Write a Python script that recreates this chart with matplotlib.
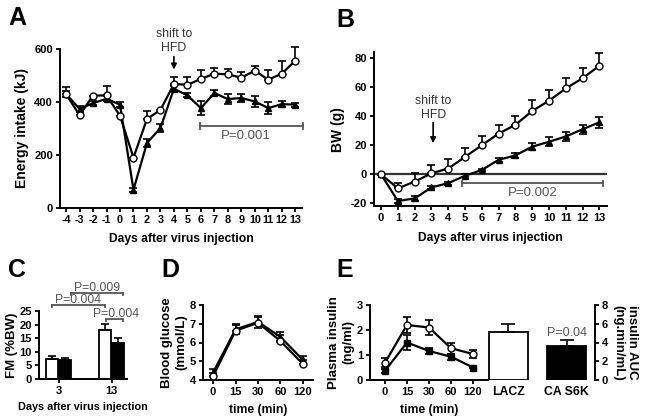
import numpy as np
import matplotlib
matplotlib.use('Agg')
import matplotlib.pyplot as plt

plt.rcParams['font.family'] = ['Liberation Sans', 'DejaVu Sans']
plt.rcParams['font.weight'] = 'bold'
plt.rcParams['axes.labelweight'] = 'bold'
plt.rcParams['axes.unicode_minus'] = False

# ---- data ----
# A: energy intake (kJ)
a_days = list(range(-4, 14))
a_lacz = [430, 350, 424, 425, 348, 190, 336, 370, 468, 465, 487, 507, 504, 492, 518, 484, 507, 556]
a_lacz_err = [27, 0, 0, 35, 0, 0, 30, 0, 28, 29, 32, 21, 22, 23, 17, 35, 46, 50]
a_s6k = [430, 374, 396, 412, 390, 69, 245, 302, 450, 425, 377, 434, 411, 415, 402, 377, 392, 390]
a_s6k_err = [10, 10, 8, 10, 10, 8, 16, 16, 10, 8, 25, 12, 20, 16, 20, 22, 12, 8]

# B: body weight change (g)
b_days = list(range(0, 14))
b_lacz = [0, -9.6, -5, 0.7, 4, 12, 20, 28, 34, 43.5, 50.6, 59, 66, 74.6]
b_lacz_err = [0, 4, 6, 6, 6.5, 6, 6, 6, 6, 7.5, 7.5, 7, 7, 9]
b_s6k = [0, -18.3, -16.5, -9, -6, -1, 3, 10, 13, 19, 22.4, 26, 31, 35.7]
b_s6k_err = [0.5, 1.5, 1.5, 1, 1, 1, 1, 1.5, 2, 2.5, 3, 3, 3, 4]

# C: fat mass (%BW)
c_days = ['3', '13']
c_lacz = [7.4, 18.0]
c_lacz_err = [1.1, 2.2]
c_s6k = [7.1, 13.4]
c_s6k_err = [0.7, 1.6]

# D: blood glucose
times = ['0', '15', '30', '60', '120']
d_lacz = [4.2, 6.63, 7.05, 6.08, 4.85]
d_lacz_err = [0.2, 0.3, 0.33, 0.3, 0.2]
d_s6k = [4.4, 6.7, 7.1, 6.3, 5.07]
d_s6k_err = [0.17, 0.27, 0.33, 0.28, 0.2]

# E: plasma insulin and AUC
e_lacz = [0.69, 2.2, 2.1, 1.27, 1.04]
e_lacz_err = [0.18, 0.33, 0.3, 0.23, 0.16]
e_s6k = [0.37, 1.5, 1.16, 0.93, 0.5]
e_s6k_err = [0.08, 0.3, 0.12, 0.12, 0.03]
auc_groups = ['LACZ', 'CA S6K']
auc_vals = [5.16, 3.66]
auc_err = [0.81, 0.61]

gray = '#555555'
tick_fs = 8
lab_fs = 8.7


def style(ax):
    for s in ['top', 'right']:
        ax.spines[s].set_visible(False)
    for s in ['left', 'bottom']:
        ax.spines[s].set_linewidth(1.4)
    ax.tick_params(width=1.3, length=3, labelsize=tick_fs, pad=2)
    for lab in ax.get_xticklabels() + ax.get_yticklabels():
        lab.set_fontweight('bold')


def pair(ax, x, y1, e1, y2, e2, m2='^', up_only=True):
    lo = np.zeros(len(e1)) if up_only else e1
    ax.errorbar(x, y2, yerr=e2, fmt='-' + m2, color='k', mfc='k', ms=4.5, lw=1.6,
                elinewidth=1.2, capsize=3, capthick=1.2, zorder=3, clip_on=False)
    ax.errorbar(x, y1, yerr=[lo, e1], fmt='-o', color='k', mfc='white', ms=5, lw=1.6,
                elinewidth=1.2, capsize=3, capthick=1.2, zorder=4, clip_on=False)


def bracket(ax, x0, x1, y, h, text=None, tx=None, ty=None, cap='both', fs=9.5):
    ax.plot([x0, x1], [y, y], color=gray, lw=1.3, clip_on=False)
    ax.plot([x0, x0], [y - h, y + h] if cap == 'both' else [y - h, y], color=gray, lw=1.3, clip_on=False)
    ax.plot([x1, x1], [y - h, y + h] if cap == 'both' else [y - h, y], color=gray, lw=1.3, clip_on=False)
    if text:
        ax.text(tx, ty, text, ha='center', va='center', color=gray, fontsize=fs,
                fontweight='normal', clip_on=False)


fig = plt.figure(figsize=(6.46, 4.19), dpi=100)
W, H = 646.0, 419.0


def box(l, r, t, b):
    return [l / W, 1 - b / H, (r - l) / W, (b - t) / H]


# ---- A ----
axA = fig.add_axes(box(60, 302, 49, 208))
pair(axA, a_days, a_lacz, a_lacz_err, a_s6k, a_s6k_err)
axA.set_xlim(-4.45, 13.5)
axA.set_ylim(0, 600)
axA.set_xticks(a_days)
axA.set_yticks([0, 200, 400, 600])
axA.set_xlabel('Days after virus injection', fontsize=lab_fs, labelpad=6)
axA.set_ylabel('Energy intake (kJ)', fontsize=10)
style(axA)
axA.tick_params(axis='x', labelsize=7.8)
bracket(axA, 5.95, 13.6, 310, 12, 'P=0.001', 9.3, 270)
axA.text(4, 630, 'shift to\nHFD', ha='center', va='center', fontsize=8.8,
         fontweight='normal', color='#333333', clip_on=False)
axA.annotate('', xy=(4, 512), xytext=(4, 582), annotation_clip=False,
             arrowprops=dict(arrowstyle='-|>', color='k', lw=1.2, mutation_scale=8))

# ---- B ----
axB = fig.add_axes(box(374, 607, 52, 206.4))
pair(axB, b_days, b_lacz, b_lacz_err, b_s6k, b_s6k_err)
axB.axhline(0, color='#333333', lw=1.6, zorder=1)
axB.set_xlim(-0.42, 13.45)
axB.set_ylim(-22, 84)
axB.set_xticks(b_days)
axB.set_yticks([-20, 0, 20, 40, 60, 80])
axB.set_xlabel('Days after virus injection', fontsize=lab_fs, labelpad=6)
axB.set_ylabel('BW (g)', fontsize=10)
style(axB)
bracket(axB, 4.8, 13.2, -6.2, 1.6, 'P=0.002', 9.05, -13)
axB.text(3.1, 45.5, 'shift to\nHFD', ha='center', va='center', fontsize=8.8,
         fontweight='normal', color='#333333')
axB.annotate('', xy=(3.1, 19.5), xytext=(3.1, 37.5),
             arrowprops=dict(arrowstyle='-|>', color='k', lw=1.2, mutation_scale=8))

# ---- C ----
axC = fig.add_axes(box(39, 127, 311, 379))
xc = np.arange(len(c_days))
bw = 0.23
axC.bar(xc - 0.13, c_lacz, bw, color='white', edgecolor='k', lw=1.3,
        yerr=[[0, 0], c_lacz_err], capsize=3, error_kw=dict(elinewidth=1.2, capthick=1.2))
axC.bar(xc + 0.12, c_s6k, bw, color='k', edgecolor='k', lw=1.3,
        yerr=[[0, 0], c_s6k_err], capsize=3, error_kw=dict(elinewidth=1.2, capthick=1.2))
axC.set_xlim(-0.37, 1.29)
axC.set_ylim(0, 25)
axC.set_xticks(xc)
axC.set_xticklabels(c_days)
axC.set_yticks([0, 5, 10, 15, 20, 25])
axC.set_xlabel('Days after virus injection', fontsize=7.8, labelpad=4)
axC.set_ylabel('FM (%BW)', fontsize=9.5, labelpad=1)
style(axC)
bracket(axC, -0.13, 0.87, 27.2, 0.9, 'P=0.004', 0.37, 29.0, cap='down', fs=8.8)
bracket(axC, 0.24, 1.22, 31.8, 0.9, 'P=0.009', 0.73, 33.6, cap='down', fs=8.8)
bracket(axC, 0.9, 1.22, 22.1, 0.9, 'P=0.004', 1.09, 23.9, cap='down', fs=8.8)

# ---- D ----
axD = fig.add_axes(box(203, 313, 305, 380))
xt = np.arange(len(times))
pair(axD, xt, d_lacz, d_lacz_err, d_s6k, d_s6k_err)
axD.set_xlim(-0.45, 4.45)
axD.set_ylim(4, 8)
axD.set_xticks(xt)
axD.set_xticklabels(times)
axD.set_yticks([4, 5, 6, 7, 8])
axD.set_xlabel('time (min)', fontsize=lab_fs, labelpad=5)
axD.set_ylabel('Blood glucose\n(mmol/L)', fontsize=9.5, labelpad=2)
style(axD)

# ---- E ----
axE = fig.add_axes(box(370, 488, 305, 380))
pair(axE, xt, e_lacz, e_lacz_err, e_s6k, e_s6k_err, m2='s', up_only=False)
axE.set_xlim(-0.68, 4.68)
axE.set_ylim(0, 3)
axE.set_xticks(xt)
axE.set_xticklabels(times)
axE.set_yticks([0, 1, 2, 3])
axE.set_xlabel('time (min)', fontsize=lab_fs, labelpad=5)
axE.set_ylabel('Plasma insulin\n(ng/ml)', fontsize=9.5, labelpad=2)
style(axE)

axE2 = fig.add_axes(box(488, 595, 305, 380))
xa = np.arange(len(auc_groups))
axE2.bar(xa, auc_vals, 0.67, color=['white', 'k'], edgecolor='k', lw=1.3,
         yerr=[[0, 0], auc_err], capsize=5, error_kw=dict(elinewidth=1.2, capthick=1.2))
axE2.set_xlim(-0.353, 1.49)
axE2.set_ylim(0, 8)
axE2.set_xticks(xa)
axE2.set_xticklabels(auc_groups)
axE2.set_yticks([0, 2, 4, 6, 8])
for s in ['top', 'left', 'bottom']:
    axE2.spines[s].set_visible(False)
axE2.spines['right'].set_linewidth(1.4)
axE2.yaxis.tick_right()
axE2.yaxis.set_label_position('right')
axE2.tick_params(axis='y', width=1.3, length=3, labelsize=tick_fs, pad=2)
axE2.tick_params(axis='x', length=0, labelsize=8.8, pad=4)
for lab in axE2.get_xticklabels() + axE2.get_yticklabels():
    lab.set_fontweight('bold')
axE2.set_ylabel('insulin AUC\n(ng.min/mL)', fontsize=9.5, rotation=270, va='bottom', labelpad=3)
axE2.text(1, 5.05, 'P=0.04', ha='center', va='center', color=gray, fontsize=9,
          fontweight='normal')

# panel letters
for letter, px, py in [('A', 8, 18), ('B', 336, 20), ('C', 8, 270), ('D', 161, 270), ('E', 336, 270)]:
    fig.text(px / W, 1 - py / H, letter, fontsize=18, fontweight='bold', va='center', ha='left')

fig.savefig('out.png', dpi=100)
